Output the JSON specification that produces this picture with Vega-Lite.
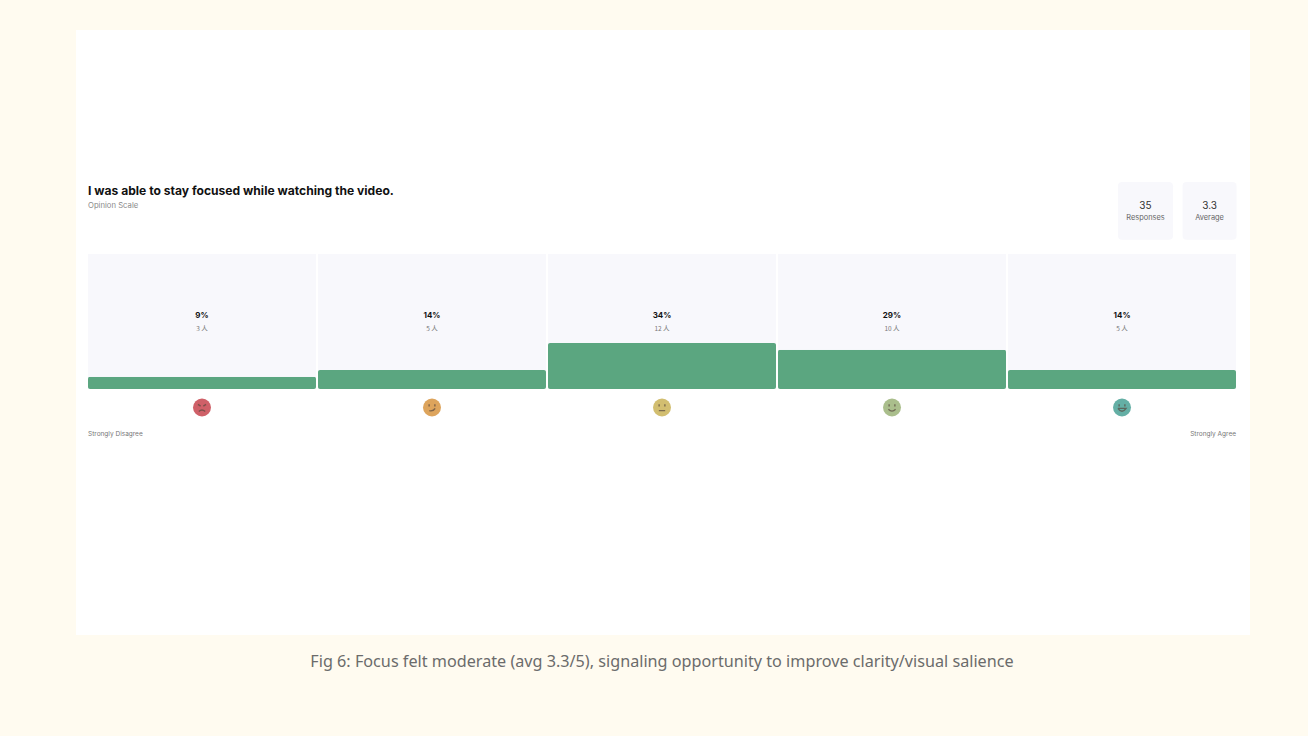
{
"$schema":"https://vega.github.io/schema/vega-lite/v6.json",
"width":1174,"height":605,
"autosize":{"type":"none"},
"padding":{"left":76,"top":30,"right":58,"bottom":101},
"background":"#FFFBF0",
"view":{"fill":"#FFFFFF","stroke":null},
"config":{"font":"Inter"},
"datasets":{
"answers":[
{"option":1,"pct":9,"pctLabel":"9%","countLabel":"3 人","track":100,"emojiY":-13.7,"face":"a"},
{"option":2,"pct":14,"pctLabel":"14%","countLabel":"5 人","track":100,"emojiY":-13.7,"face":"b"},
{"option":3,"pct":34,"pctLabel":"34%","countLabel":"12 人","track":100,"emojiY":-13.7,"face":"c"},
{"option":4,"pct":29,"pctLabel":"29%","countLabel":"10 人","track":100,"emojiY":-13.7,"face":"d"},
{"option":5,"pct":14,"pctLabel":"14%","countLabel":"5 人","track":100,"emojiY":-13.7,"face":"e"}
]
},
"encoding":{
"x":{"field":"option","type":"ordinal","axis":null,"scale":{"domain":[1,2,3,4,5],"range":[12,1160],"paddingInner":0.0087,"paddingOuter":0}}
},
"layer":[
{"data":{"name":"answers"},"mark":{"type":"bar","fill":"#F8F8FC"},
 "encoding":{"y":{"field":"track","type":"quantitative","axis":null,"scale":{"domain":[0,100],"range":[359,224],"nice":false,"zero":false}}}},
{"data":{"name":"answers"},"mark":{"type":"bar","fill":"#5BA680","cornerRadius":2},
 "encoding":{"y":{"field":"pct","type":"quantitative"}}},
{"data":{"name":"answers"},"mark":{"type":"text","font":"Inter","fontWeight":"bold","fontSize":8,"fill":"#111111","baseline":"middle"},
 "encoding":{"y":{"datum":54.2,"type":"quantitative"},"text":{"field":"pctLabel"}}},
{"data":{"name":"answers"},"mark":{"type":"text","font":"Noto Sans CJK SC","fontSize":6.5,"fill":"#777777","baseline":"middle"},
 "encoding":{"y":{"datum":44.6,"type":"quantitative"},"text":{"field":"countLabel"}}},
{"data":{"name":"answers"},"mark":{"type":"point","filled":true,"size":324,"opacity":1,"shape":"circle"},
 "encoding":{"y":{"field":"emojiY","type":"quantitative"},
 "color":{"field":"face","type":"nominal","legend":null,"scale":{"domain":["a","b","c","d","e"],"range":["#CF6068","#DDA45C","#D2BE70","#AABE8C","#64AFA5"]}}}},
{"data":{"name":"answers"},"mark":{"type":"point","filled":false,"size":324,"opacity":0.7,"strokeWidth":1.4,"stroke":"#5A4A40"},
 "encoding":{"y":{"field":"emojiY","type":"quantitative"},
 "shape":{"field":"face","type":"nominal","legend":null,"scale":{"domain":["a","b","c","d","e"],"range":[
 "M-0.45 -0.35L-0.15 -0.15M0.45 -0.35L0.15 -0.15M-0.35 0.45Q0 0.1 0.35 0.45",
 "M-0.32 -0.35L-0.32 -0.12M0.32 -0.35L0.32 -0.12M-0.3 0.35Q0.15 0.45 0.35 0.1",
 "M-0.32 -0.35L-0.32 -0.12M0.32 -0.35L0.32 -0.12M-0.35 0.35L0.35 0.35",
 "M-0.32 -0.35L-0.32 -0.12M0.32 -0.35L0.32 -0.12M-0.4 0.2Q0 0.6 0.4 0.2",
 "M-0.32 -0.35L-0.32 -0.12M0.32 -0.35L0.32 -0.12M-0.45 0.1L0.45 0.1Q0 0.75 -0.45 0.1"
 ]}}}},
{"data":{"values":[{"option":5,"card":131.9}]},
 "mark":{"type":"point","filled":true,"opacity":1,"fill":"#F8F8FC","size":3025,
 "shape":"M-0.85 -1.05L0.85 -1.05Q1 -1.05 1 -0.9L1 0.9Q1 1.05 0.85 1.05L-0.85 1.05Q-1 1.05 -1 0.9L-1 -0.9Q-1 -1.05 -0.85 -1.05Z"},
 "encoding":{"x":{"field":"option","type":"ordinal","bandPosition":0.603},"y":{"field":"card","type":"quantitative"}}},
{"data":{"values":[{"option":5,"card":131.9}]},
 "mark":{"type":"point","filled":true,"opacity":1,"fill":"#F8F8FC","size":2916,
 "shape":"M-0.85 -1.07L0.85 -1.07Q1 -1.07 1 -0.92L1 0.92Q1 1.07 0.85 1.07L-0.85 1.07Q-1 1.07 -1 0.92L-1 -0.92Q-1 -1.07 -0.85 -1.07Z"},
 "encoding":{"x":{"field":"option","type":"ordinal","bandPosition":0.884},"y":{"field":"card","type":"quantitative"}}},
{"data":{"values":[{"option":5,"value":"35","name":"Responses","num":135.8,"lab":126.9}]},
 "layer":[
 {"mark":{"type":"text","font":"Inter","fontSize":10,"fill":"#333333","baseline":"middle"},"encoding":{"x":{"field":"option","type":"ordinal","bandPosition":0.603},"y":{"field":"num","type":"quantitative"},"text":{"field":"value"}}},
 {"mark":{"type":"text","font":"Inter","fontSize":7.4,"fill":"#666666","baseline":"middle"},"encoding":{"x":{"field":"option","type":"ordinal","bandPosition":0.603},"y":{"field":"lab","type":"quantitative"},"text":{"field":"name"}}}
 ]},
{"data":{"values":[{"option":5,"value":"3.3","name":"Average","num":135.8,"lab":126.9}]},
 "layer":[
 {"mark":{"type":"text","font":"Inter","fontSize":10,"fill":"#333333","baseline":"middle"},"encoding":{"x":{"field":"option","type":"ordinal","bandPosition":0.884},"y":{"field":"num","type":"quantitative"},"text":{"field":"value"}}},
 {"mark":{"type":"text","font":"Inter","fontSize":7.4,"fill":"#666666","baseline":"middle"},"encoding":{"x":{"field":"option","type":"ordinal","bandPosition":0.884},"y":{"field":"lab","type":"quantitative"},"text":{"field":"name"}}}
 ]},
{"data":{"values":[{"option":1,"t":"I was able to stay focused while watching the video.","at":146.5}]},
 "mark":{"type":"text","font":"Inter","fontWeight":"bold","fontSize":12.1,"fill":"#111111","baseline":"middle","align":"left"},
 "encoding":{"x":{"field":"option","type":"ordinal","bandPosition":0},"y":{"field":"at","type":"quantitative"},"text":{"field":"t"}}},
{"data":{"values":[{"option":1,"t":"Opinion Scale","at":135.2}]},
 "mark":{"type":"text","font":"Inter","fontSize":7.7,"fill":"#8A8A8A","baseline":"middle","align":"left"},
 "encoding":{"x":{"field":"option","type":"ordinal","bandPosition":0},"y":{"field":"at","type":"quantitative"},"text":{"field":"t"}}},
{"data":{"values":[{"option":1,"t":"Strongly Disagree","at":-33.5}]},
 "mark":{"type":"text","font":"Inter","fontSize":6.5,"fill":"#777777","baseline":"middle","align":"left"},
 "encoding":{"x":{"field":"option","type":"ordinal","bandPosition":0},"y":{"field":"at","type":"quantitative"},"text":{"field":"t"}}},
{"data":{"values":[{"option":5,"t":"Strongly Agree","at":-33.5}]},
 "mark":{"type":"text","font":"Inter","fontSize":6.5,"fill":"#777777","baseline":"middle","align":"right"},
 "encoding":{"x":{"field":"option","type":"ordinal","bandPosition":1},"y":{"field":"at","type":"quantitative"},"text":{"field":"t"}}},
{"data":{"values":[{"option":3,"t":"Fig 6: Focus felt moderate (avg 3.3/5), signaling opportunity to improve clarity/visual salience","at":-202.2}]},
 "mark":{"type":"text","font":"Noto Sans","fontSize":16.2,"fill":"#6B6B6B","baseline":"middle"},
 "encoding":{"y":{"field":"at","type":"quantitative"},"text":{"field":"t"}}}
]
}
